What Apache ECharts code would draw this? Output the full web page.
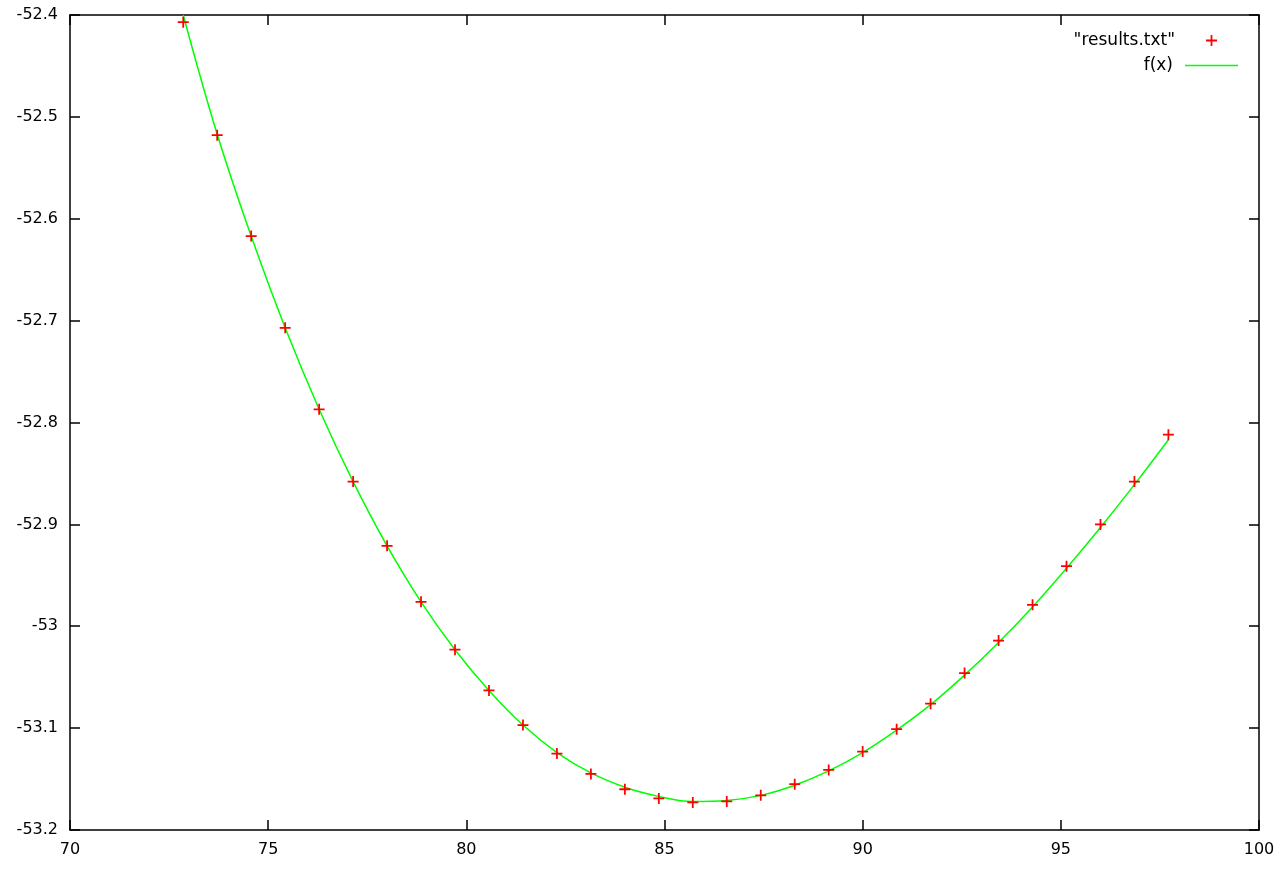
<!DOCTYPE html>
<html>
<head>
<meta charset="utf-8">
<script src="https://cdn.jsdelivr.net/npm/echarts@6/dist/echarts.min.js"></script>
<style>html,body{margin:0;padding:0;background:#fff}#c{width:1281px;height:872px}</style>
</head>
<body>
<div id="c"></div>
<script>
const xValues = [72.857, 73.714, 74.571, 75.429, 76.286, 77.143, 78.0, 78.857, 79.714, 80.571,
  81.429, 82.286, 83.143, 84.0, 84.857, 85.714, 86.571, 87.429, 88.286, 89.143,
  90.0, 90.857, 91.714, 92.571, 93.429, 94.286, 95.143, 96.0, 96.857, 97.714];
const resultsY = [-52.407, -52.518, -52.617, -52.707, -52.787, -52.858, -52.921, -52.976, -53.023, -53.063,
  -53.097, -53.125, -53.145, -53.160, -53.169, -53.173, -53.172, -53.166, -53.155, -53.141,
  -53.123, -53.101, -53.076, -53.046, -53.014, -52.979, -52.941, -52.900, -52.858, -52.812];
const fitY = [-52.400, -52.517, -52.617, -52.707, -52.787, -52.858, -52.921, -52.976, -53.023, -53.063,
  -53.097, -53.124, -53.144, -53.158, -53.167, -53.172, -53.171, -53.166, -53.156, -53.142,
  -53.124, -53.102, -53.077, -53.048, -53.016, -52.981, -52.943, -52.903, -52.861, -52.817];
const seriesNames = ['"results.txt"', 'f(x)'];
const xTicks = {min: 70, max: 100, interval: 5};
const yTicks = {min: -53.2, max: -52.4, interval: 0.1};

const pts = xValues.map((x, i) => [x, resultsY[i]]);
const fit = xValues.map((x, i) => [x, fitY[i]]);
const plus = 'path://M0,4.2H4.2V0H5.8V4.2H10V5.8H5.8V10H4.2V5.8H0Z';
const font = 'DejaVu Sans';
const axisLine = {show: true, lineStyle: {color: '#000', width: 1.5}};
const tick = {show: true, inside: true, length: 10, lineStyle: {color: '#000', width: 1.5}};

const chart = echarts.init(document.getElementById('c'), null, {renderer: 'canvas'});
chart.setOption({
  animation: false,
  backgroundColor: '#fff',
  grid: {left: 70, right: 22, top: 15, bottom: 42, containLabel: false},
  legend: [
    {data: [{name: seriesNames[0], icon: plus}], right: 64, top: 32, align: 'right',
     itemWidth: 11, itemHeight: 11, padding: 0,
     textStyle: {fontFamily: font, fontSize: 17, color: '#000', padding: [0, 26, 0, 0]}},
    {data: [{name: seriesNames[1], icon: 'rect'}], right: 43, top: 57, align: 'right',
     itemWidth: 53, itemHeight: 1.5, padding: 0,
     textStyle: {fontFamily: font, fontSize: 17, color: '#000', padding: [0, 7, 0, 0]}}
  ],
  xAxis: [
    {type: 'value', min: xTicks.min, max: xTicks.max, interval: xTicks.interval, position: 'bottom',
     axisLine: axisLine, axisTick: tick, splitLine: {show: false},
     axisLabel: {fontFamily: font, fontSize: 16, color: '#000', margin: 12}},
    {type: 'value', min: xTicks.min, max: xTicks.max, interval: xTicks.interval, position: 'top',
     axisLine: axisLine, axisTick: tick, splitLine: {show: false}, axisLabel: {show: false}}
  ],
  yAxis: [
    {type: 'value', min: yTicks.min, max: yTicks.max, interval: yTicks.interval, position: 'left',
     axisLine: axisLine, axisTick: tick, splitLine: {show: false},
     axisLabel: {fontFamily: font, fontSize: 16, color: '#000', margin: 12,
       formatter: v => String(Math.round(v * 10) / 10)}},
    {type: 'value', min: yTicks.min, max: yTicks.max, interval: yTicks.interval, position: 'right',
     axisLine: axisLine, axisTick: tick, splitLine: {show: false}, axisLabel: {show: false}}
  ],
  series: [
    {name: seriesNames[1], type: 'line', data: fit, smooth: 0.4, showSymbol: false, symbol: 'none',
     lineStyle: {color: '#00ff00', width: 1.5}, itemStyle: {color: '#00ff00'}, z: 2},
    {name: seriesNames[0], type: 'scatter', data: pts, symbol: plus, symbolSize: 11,
     itemStyle: {color: '#ff0000', opacity: 1}, z: 3}
  ]
});
</script>
</body>
</html>
